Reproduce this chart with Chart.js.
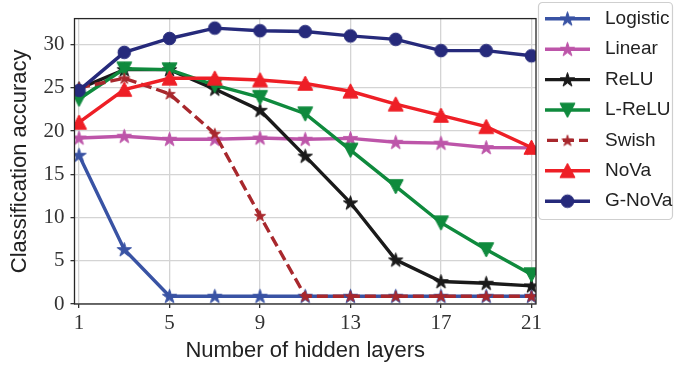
<!DOCTYPE html>
<html>
<head>
<meta charset="utf-8">
<script src="https://cdn.jsdelivr.net/npm/chart.js@4/dist/chart.umd.min.js"></script>
<style>
  html, body { margin: 0; padding: 0; background: #fff; }
  #wrap { width: 675px; height: 369px; }
</style>
</head>
<body>
<div id="wrap"><canvas id="c" width="675" height="369"></canvas></div>
<script>
// Number of hidden layers (x) and accuracy per activation function (y)
const layers   = [1, 3, 5, 7, 9, 11, 13, 15, 17, 19, 21];
const xTicks   = [1, 5, 9, 13, 17, 21];
const yTicks   = [0, 5, 10, 15, 20, 25, 30];
const names    = ['Logistic', 'Linear', 'ReLU', 'L-ReLU', 'Swish', 'NoVa', 'G-NoVa'];
const logistic = [17.2, 6.3, 0.9, 0.9, 0.9, 0.9, 0.9, 0.9, 0.9, 0.9, 0.9];
const linear   = [19.2, 19.4, 19.05, 19.05, 19.2, 19.05, 19.15, 18.7, 18.6, 18.1, 18.05];
const relu     = [24.9, 27.1, 27.1, 24.85, 22.4, 17.1, 11.7, 5.1, 2.6, 2.4, 2.1];
const lrelu    = [23.7, 27.2, 27.1, 25.3, 23.9, 22.0, 17.8, 13.6, 9.4, 6.3, 3.4];
const swish    = [25.0, 26.1, 24.3, 19.7, 10.2, 0.9, 0.9, 0.9, 0.9, 0.9, 0.9];
const nova     = [21.0, 24.8, 26.1, 26.1, 25.9, 25.5, 24.6, 23.1, 21.8, 20.5, 18.1];
const gnova    = [24.7, 29.1, 30.7, 31.9, 31.6, 31.5, 31.0, 30.6, 29.3, 29.3, 28.7];

const colors  = ['#3953a4', '#bd55a9', '#1a1a1a', '#0f8a3d', '#a8282d', '#ee1f26', '#262a7b'];
const markers = ['star', 'star', 'star', 'down', 'star', 'up', 'circle'];
const sizes   = [7.5, 7.5, 7.5, 7.5, 5.8, 7.5, 6.3];
const series  = [logistic, linear, relu, lrelu, swish, nova, gnova];

// Filled marker glyphs, rendered once per series onto small canvases
function markerCanvas(shape, color, r) {
  const pad = 2;
  const c = document.createElement('canvas');
  const s = Math.ceil(2 * r + 2 * pad);
  c.width = s; c.height = s;
  const g = c.getContext('2d');
  const cx = s / 2, cy = s / 2;
  g.fillStyle = color; g.strokeStyle = color; g.lineWidth = 1; g.lineJoin = 'miter';
  g.beginPath();
  if (shape === 'circle') {
    g.arc(cx, cy, r, 0, Math.PI * 2);
  } else if (shape === 'star') {
    const inner = r * 0.381966;
    for (let k = 0; k < 10; k++) {
      const a = -Math.PI / 2 + k * Math.PI / 5;
      const rr = k % 2 === 0 ? r : inner;
      const px = cx + rr * Math.cos(a), py = cy + 0.5 + rr * Math.sin(a) ;
      if (k === 0) g.moveTo(px, py); else g.lineTo(px, py);
    }
  } else if (shape === 'up') {
    g.moveTo(cx, cy - r); g.lineTo(cx + r, cy + r * 0.9); g.lineTo(cx - r, cy + r * 0.9);
  } else if (shape === 'down') {
    g.moveTo(cx, cy + r); g.lineTo(cx + r, cy - r * 0.9); g.lineTo(cx - r, cy - r * 0.9);
  }
  g.closePath();
  g.fill();
  g.stroke();
  return c;
}

const datasets = names.map((name, i) => ({
  label: name,
  data: layers.map((x, j) => ({ x: x, y: series[i][j] })),
  borderColor: colors[i],
  backgroundColor: colors[i],
  borderWidth: 3.4,
  borderDash: name === 'Swish' ? [11, 5] : [],
  pointStyle: markerCanvas(markers[i], colors[i], sizes[i]),
  pointRadius: sizes[i],
  pointHoverRadius: sizes[i],
  tension: 0,
  clip: 0,
  order: names.length - i
}));

// Box around the plotting area, drawn over the lines
const frame = {
  id: 'frame',
  afterDatasetsDraw(chart) {
    const { ctx, chartArea: a } = chart;
    ctx.save();
    ctx.strokeStyle = '#262626';
    ctx.lineWidth = 1.3;
    ctx.strokeRect(a.left, a.top, a.right - a.left, a.bottom - a.top);
    ctx.restore();
  }
};

// Legend box on the right with line + marker samples
const legendBox = {
  id: 'legendBox',
  afterDraw(chart) {
    const ctx = chart.ctx;
    const x0 = 538.5, y0 = 2.5, w = 134, h = 217, rad = 4;
    ctx.save();
    ctx.beginPath();
    ctx.moveTo(x0 + rad, y0);
    ctx.arcTo(x0 + w, y0, x0 + w, y0 + h, rad);
    ctx.arcTo(x0 + w, y0 + h, x0, y0 + h, rad);
    ctx.arcTo(x0, y0 + h, x0, y0, rad);
    ctx.arcTo(x0, y0, x0 + w, y0, rad);
    ctx.closePath();
    ctx.fillStyle = '#ffffff';
    ctx.fill();
    ctx.strokeStyle = '#cfcfcf';
    ctx.lineWidth = 1.2;
    ctx.stroke();
    chart.data.datasets.forEach((ds, i) => {
      const y = 18.8 + i * 30.4;
      ctx.save();
      ctx.strokeStyle = ds.borderColor;
      ctx.lineWidth = ds.borderWidth;
      ctx.setLineDash(ds.borderDash || []);
      ctx.beginPath();
      if (ds.label === 'Swish') { ctx.moveTo(547, y); ctx.lineTo(588, y); }
      else { ctx.moveTo(545, y); ctx.lineTo(590, y); }
      ctx.stroke();
      ctx.restore();
      const img = ds.pointStyle;
      ctx.drawImage(img, 567.5 - img.width / 2, y - img.height / 2);
      ctx.fillStyle = '#222';
      ctx.font = '19px "Liberation Sans", Arial, sans-serif';
      ctx.textBaseline = 'middle';
      ctx.textAlign = 'left';
      ctx.fillText(ds.label, 605, y);
    });
    ctx.restore();
  }
};

new Chart(document.getElementById('c'), {
  type: 'line',
  data: { datasets: datasets },
  options: {
    responsive: false,
    animation: false,
    devicePixelRatio: 1,
    layout: { padding: { top: 4, right: 139, left: 0, bottom: 0 } },
    plugins: { legend: { display: false }, tooltip: { enabled: false } },
    scales: {
      x: {
        type: 'linear',
        min: 0.8,
        max: 21.2,
        afterBuildTicks: s => { s.ticks = xTicks.map(v => ({ value: v })); },
        afterFit: s => { s.height = 65; },
        grid: { color: '#d4d4d4', lineWidth: 1.3, tickColor: '#333', tickLength: 4, drawTicks: true },
        border: { display: false },
        ticks: {
          color: '#333',
          padding: 3,
          maxRotation: 0,
          font: { family: '"Liberation Serif", "Times New Roman", serif', size: 21 }
        },
        title: {
          display: true,
          text: 'Number of hidden layers',
          color: '#222',
          font: { family: '"Liberation Sans", Arial, sans-serif', size: 22 },
          padding: { top: 0, bottom: 5 }
        }
      },
      y: {
        type: 'linear',
        min: 0,
        max: 33,
        afterBuildTicks: s => { s.ticks = yTicks.map(v => ({ value: v })); },
        afterFit: s => { s.width = 74.5; },
        grid: { color: '#d4d4d4', lineWidth: 1.3, tickColor: '#333', tickLength: 4, drawTicks: true },
        border: { display: false },
        ticks: {
          color: '#333',
          padding: 6,
          font: { family: '"Liberation Serif", "Times New Roman", serif', size: 21 }
        },
        title: {
          display: true,
          text: 'Classification accuracy',
          color: '#222',
          font: { family: '"Liberation Sans", Arial, sans-serif', size: 22 },
          padding: { top: 7, bottom: 0 }
        }
      }
    }
  },
  plugins: [frame, legendBox]
});
</script>
</body>
</html>
